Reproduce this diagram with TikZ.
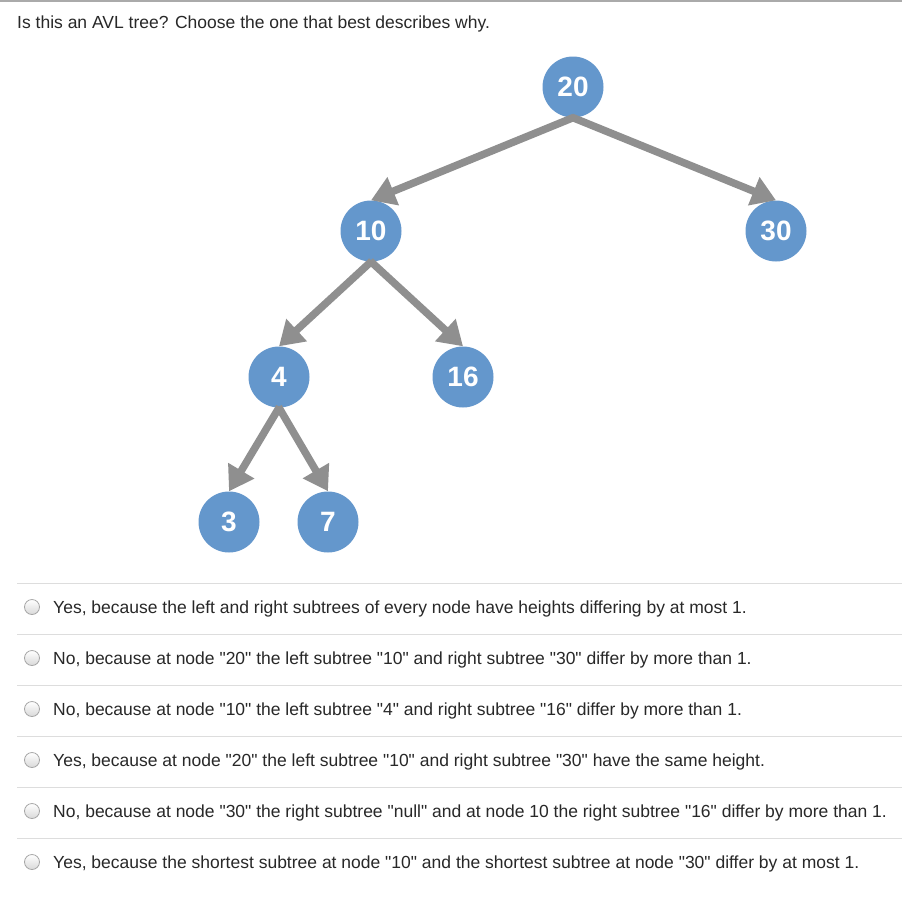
\documentclass[tikz,border=0pt]{standalone}
\usepackage{fontspec}
\setmainfont{Liberation Sans}[Ligatures=TeXOff]
\usetikzlibrary{arrows.meta}
\definecolor{nodeblue}{RGB}{100,151,204}
\definecolor{edgegray}{RGB}{143,143,143}
\definecolor{sepgray}{RGB}{221,221,221}
\definecolor{topgray}{RGB}{170,170,170}
\definecolor{txt}{RGB}{40,40,40}
\newcommand\qq{\symbol{34}}
\tikzset{
  treenode/.style={circle, fill=nodeblue, minimum size=61pt, inner sep=0pt, text=white, font=\fontsize{28}{28}\selectfont\bfseries},
  edge/.style={draw=edgegray, line width=7.5pt, -{Triangle[length=24pt,width=29pt]}, shorten <=-1pt},
  opt/.style={anchor=base west, text=txt, inner sep=0pt, font=\fontsize{17.5}{17.5}\selectfont},
  sep/.style={draw=sepgray, line width=1pt},
  radio/.style={draw=gray!70, line width=0.8pt, top color=white, bottom color=gray!30}
}
\begin{document}
\begin{tikzpicture}[x=1pt,y=-1pt]
\useasboundingbox (0,0) rectangle (902,897);
\fill[white] (0,0) rectangle (902,897);
\draw[topgray, line width=1.2pt] (0,1) -- (902,1);
\node[opt] (q) at (17,28) {Is this an AVL tree? Choose the one that best describes why.};
% tree
\node[treenode] (n20) at (573,87) {20};
\node[treenode] (n10) at (371,231) {10};
\node[treenode] (n30) at (776,231) {30};
\node[treenode] (n4) at (279,377) {4};
\node[treenode] (n16) at (463,377) {16};
\node[treenode] (n3) at (229,522) {3};
\node[treenode] (n7) at (328,522) {7};
\draw[edge] (n20.south) -- (n10.north);
\draw[edge] (n20.south) -- (n30.north);
\draw[edge] (n10.south) -- (n4.north);
\draw[edge] (n10.south) -- (n16.north);
\draw[edge] (n4.south) -- (n3.north);
\draw[edge] (n4.south) -- (n7.north);
% separators
\foreach \y in {583,634,685,736,787,838} {
  \draw[sep] (17,\y) -- (902,\y);
}
% options
\foreach \y/\t [count=\i] in {
  607/{Yes, because the left and right subtrees of every node have heights differing by at most 1.},
  658/{No, because at node \qq20\qq{} the left subtree \qq10\qq{} and right subtree \qq30\qq{} differ by more than 1.},
  709/{No, because at node \qq10\qq{} the left subtree \qq4\qq{} and right subtree \qq16\qq{} differ by more than 1.},
  760/{Yes, because at node \qq20\qq{} the left subtree \qq10\qq{} and right subtree \qq30\qq{} have the same height.},
  811/{No, because at node \qq30\qq{} the right subtree \qq null\qq{} and at node 10 the right subtree \qq16\qq{} differ by more than 1.},
  862/{Yes, because the shortest subtree at node \qq10\qq{} and the shortest subtree at node \qq30\qq{} differ by at most 1.}} {
  \shade[radio] (32,\y) circle (7.5pt);
  \node[opt] (o\i) at (53,\y+6) {\t};
}
\end{tikzpicture}
\end{document}
